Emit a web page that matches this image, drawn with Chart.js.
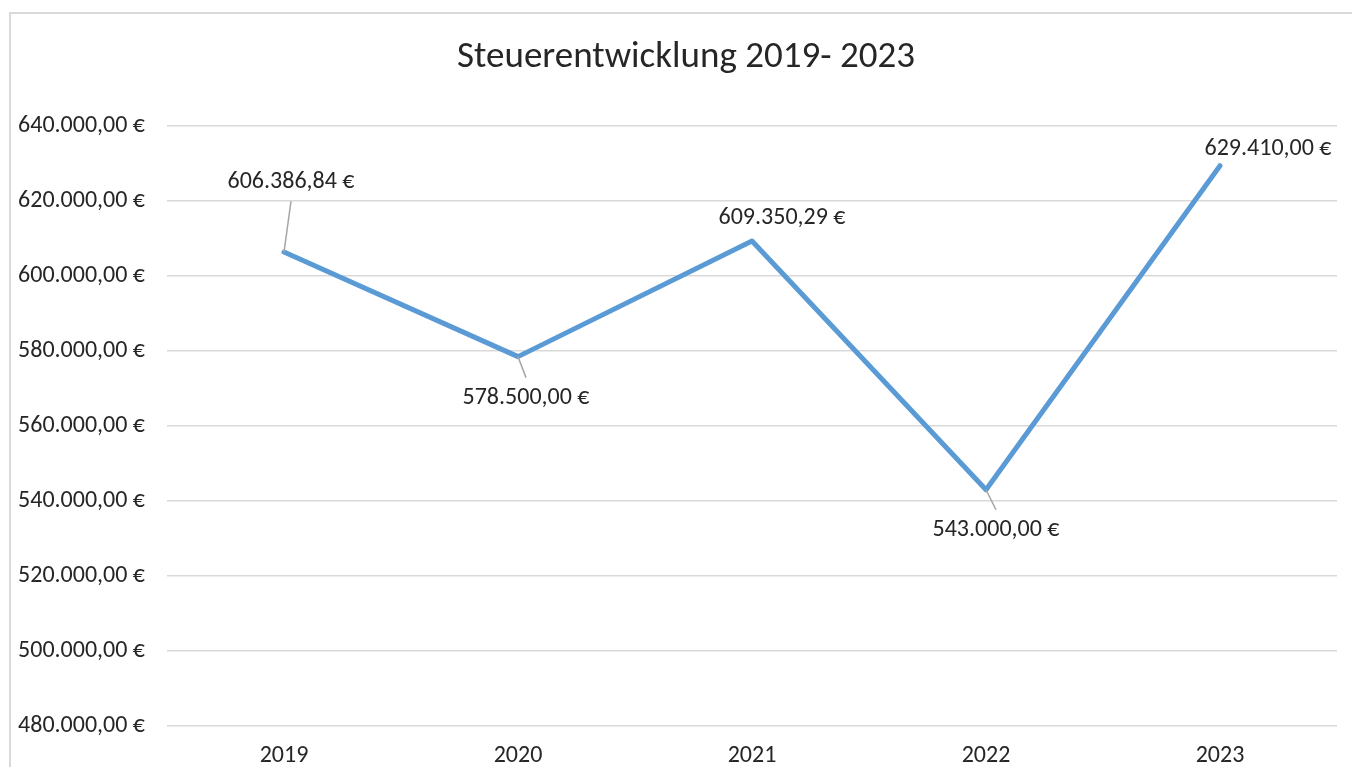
<!DOCTYPE html>
<html lang="de">
<head>
<meta charset="utf-8">
<title>Steuerentwicklung 2019- 2023</title>
<script src="https://cdn.jsdelivr.net/npm/chart.js@4/dist/chart.umd.min.js"></script>
<style>
  html, body { margin: 0; padding: 0; background: #fff; overflow: hidden; }
  .frame {
    position: absolute; left: 9px; top: 12px; width: 1400px; height: 800px;
    border-top: 2px solid #d9d9d9; border-left: 2px solid #d9d9d9;
  }
  .wrap { position: absolute; left: 0; top: 0; width: 1352px; height: 767px; }
</style>
</head>
<body>
<div class="frame"></div>
<div class="wrap"><canvas id="chart-steuer"></canvas></div>
<script>
// ── Data ──────────────────────────────────────────────
const TITLE  = 'Steuerentwicklung 2019- 2023';
const YEARS  = ['2019', '2020', '2021', '2022', '2023'];
const STEUER = [606386.84, 578500.00, 609350.29, 543000.00, 629410.00];
const Y_MIN  = 480000;
const Y_MAX  = 640000;
const Y_STEP = 20000;

const FONT = "Carlito, Calibri, Lato, 'Open Sans', sans-serif";
const TXT  = '#262626';
const LBL_SIZE = 24;

// 606386.84 -> "606.386,84 €"
function fmtEUR(v) {
  const [int, dec] = Math.abs(v).toFixed(2).split('.');
  const grouped = int.replace(/\B(?=(\d{3})+(?!\d))/g, '.');
  return (v < 0 ? '-' : '') + grouped + ',' + dec + ' €';
}

// ── Title (centred on the chart frame, not the canvas box) ──
const frameTitle = {
  id: 'frameTitle',
  afterDraw(chart) {
    const { ctx } = chart;
    ctx.save();
    ctx.font = `37px ${FONT}`;
    ctx.fillStyle = TXT;
    ctx.textAlign = 'center';
    ctx.textBaseline = 'middle';
    ctx.fillText(TITLE, 686, 58);
    ctx.restore();
  },
};

// ── Data labels with leader lines ─────────────────────
// offset of label centre from the point, in px; leader = draw a gray line
const labelOffsets = [
  { dx: 7,  dy: -70, leader: true },
  { dx: 8,  dy: 41,  leader: true },
  { dx: 30, dy: -23, leader: false },
  { dx: 10, dy: 40,  leader: true },
  { dx: 48, dy: -17, leader: false },
];

const valueLabels = {
  id: 'valueLabels',
  afterDatasetsDraw(chart) {
    const { ctx } = chart;
    const meta = chart.getDatasetMeta(0);
    const ds = chart.data.datasets[0];
    ctx.save();
    ctx.font = `${LBL_SIZE}px ${FONT}`;
    ctx.textAlign = 'center';
    ctx.textBaseline = 'middle';
    meta.data.forEach((pt, i) => {
      const o = labelOffsets[i];
      const lx = pt.x + o.dx, ly = pt.y + o.dy;
      if (o.leader) {
        const edge = ly + (o.dy < 0 ? 19 : -20);
        ctx.strokeStyle = '#a6a6a6';
        ctx.lineWidth = 1.5;
        ctx.beginPath();
        ctx.moveTo(pt.x, pt.y);
        ctx.lineTo(lx, edge);
        ctx.stroke();
      }
      ctx.fillStyle = TXT;
      ctx.fillText(fmtEUR(ds.data[i]), lx, ly);
    });
    ctx.restore();
  },
};

// ── Chart ─────────────────────────────────────────────
new Chart(document.getElementById('chart-steuer'), {
  type: 'line',
  data: {
    labels: YEARS,
    datasets: [{
      label: 'Steuer',
      data: STEUER,
      borderColor: '#5b9bd5',
      borderWidth: 5,
      borderCapStyle: 'round',
      borderJoinStyle: 'round',
      pointRadius: 0,
      tension: 0,
      fill: false,
    }],
  },
  options: {
    responsive: true,
    maintainAspectRatio: false,
    animation: false,
    layout: { padding: { left: 0, right: 15, top: 126, bottom: 0 } },
    plugins: {
      legend: { display: false },
      tooltip: { enabled: false },
      title: { display: false },
    },
    scales: {
      x: {
        offset: true,
        grid: { display: false, drawTicks: false },
        border: { display: false },
        ticks: { color: TXT, font: { family: FONT, size: LBL_SIZE }, padding: 16, maxRotation: 0 },
        afterFit(scale) { scale.height = 41; },
      },
      y: {
        min: Y_MIN,
        max: Y_MAX,
        grid: { color: '#d9d9d9', lineWidth: 1.5, drawTicks: false },
        border: { display: false },
        ticks: {
          stepSize: Y_STEP,
          color: TXT,
          font: { family: FONT, size: LBL_SIZE },
          padding: 22,
          callback: v => fmtEUR(v),
        },
        afterFit(scale) { scale.width = 167; },
      },
    },
  },
  plugins: [valueLabels, frameTitle],
});
</script>
</body>
</html>
